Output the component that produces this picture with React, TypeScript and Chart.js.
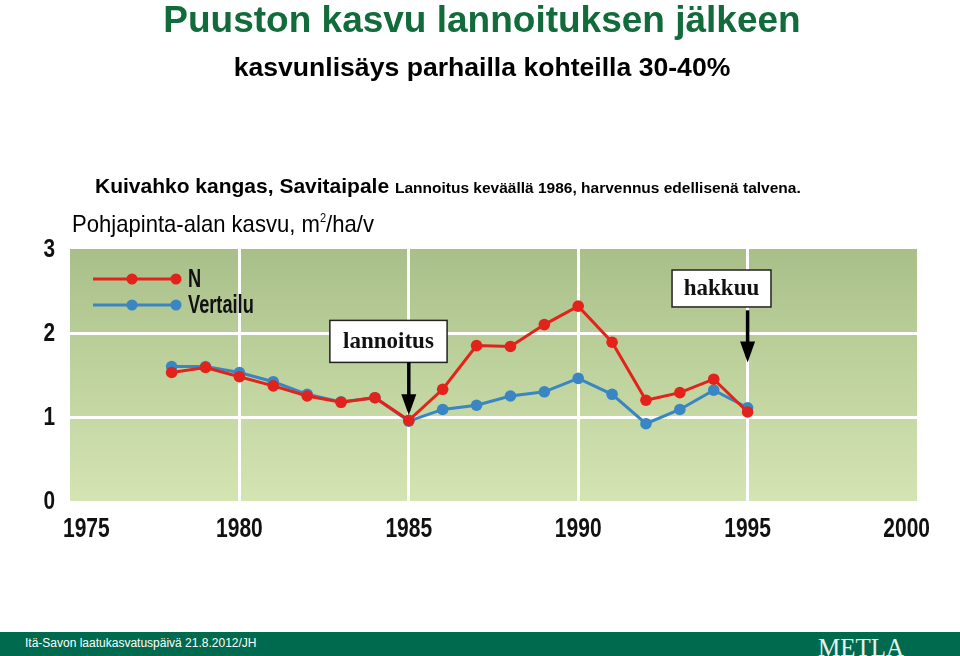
import React, { useEffect, useRef } from "react";
import { Chart, registerables } from "chart.js";

Chart.register(...registerables);

const years = [1978, 1979, 1980, 1981, 1982, 1983, 1984, 1985, 1986, 1987, 1988, 1989, 1990, 1991, 1992, 1993, 1994, 1995];
const seriesN = [1.53, 1.59, 1.48, 1.37, 1.25, 1.175, 1.23, 0.96, 1.33, 1.85, 1.84, 2.1, 2.32, 1.89, 1.2, 1.29, 1.45, 1.06];
const seriesVertailu = [1.6, 1.6, 1.53, 1.42, 1.27, 1.18, 1.23, 0.95, 1.09, 1.14, 1.25, 1.3, 1.46, 1.27, 0.92, 1.09, 1.32, 1.11];
const seriesLabels = ["N", "Vertailu"];
const xMin = 1975;
const xMax = 2000;
const xStep = 5;
const yMin = 0;
const yMax = 3;

const annotations = [
  { text: "lannoitus", year: 1985, boxLeft: 1982.67, boxRight: 1986.13, boxTop: 2.15, boxBottom: 1.65, arrowStart: 1.65, tip: 1.02 },
  { text: "hakkuu", year: 1995, boxLeft: 1992.77, boxRight: 1995.69, boxTop: 2.75, boxBottom: 2.31, arrowStart: 2.27, tip: 1.65 },
];

const RED = "#e3231b";
const BLUE = "#3a86c2";
const SANS = '"Liberation Sans", Arial, sans-serif';
const SERIF = '"Liberation Serif", "Times New Roman", serif';

const condensedText = (ctx: any, text: string, x: number, y: number, font: string, sx: number, align: string) => {
  ctx.save();
  ctx.translate(x, y);
  ctx.scale(sx, 1);
  ctx.font = font;
  ctx.textAlign = align;
  ctx.textBaseline = "middle";
  ctx.fillText(text, 0, 0);
  ctx.restore();
};

const bgPlugin = {
  id: "plotBg",
  beforeDraw(chart: any) {
    const { ctx, chartArea: a } = chart;
    const g = ctx.createLinearGradient(0, a.top, 0, a.bottom);
    g.addColorStop(0, "#a9bf8a");
    g.addColorStop(0.5, "#bfd39e");
    g.addColorStop(1, "#d4e4b3");
    ctx.save();
    ctx.fillStyle = g;
    ctx.fillRect(a.left, a.top, a.right - a.left, a.bottom - a.top);
    ctx.restore();
  },
};

const overlayPlugin = {
  id: "overlay",
  afterDraw(chart: any) {
    const { ctx, chartArea: a, scales } = chart;
    const xs = scales.x;
    const ys = scales.y;
    ctx.save();
    ctx.fillStyle = "#111";
    // axis tick labels (condensed, as in the slide)
    const xt = xs.ticks;
    xt.forEach((t: any, i: number) => {
      const px = xs.getPixelForValue(t.value);
      let x = px;
      let align = "center";
      if (i === 0) { x = px - 7; align = "left"; }
      else if (i === xt.length - 1) { x = px + 13; align = "right"; }
      condensedText(ctx, String(t.value), x, a.bottom + 28, `bold 28px ${SANS}`, 0.75, align);
    });
    ys.ticks.forEach((t: any) => {
      const py = ys.getPixelForValue(t.value);
      condensedText(ctx, String(t.value), a.left - 15, py + 1, `bold 26px ${SANS}`, 0.8, "right");
    });
    // legend
    chart.data.datasets.forEach((ds: any, i: number) => {
      const y = a.top + 30 + i * 26;
      const x0 = a.left + 23;
      const x1 = a.left + 106;
      ctx.strokeStyle = ds.borderColor;
      ctx.lineWidth = 3;
      ctx.beginPath();
      ctx.moveTo(x0, y);
      ctx.lineTo(x1, y);
      ctx.stroke();
      ctx.fillStyle = ds.borderColor;
      [a.left + 62, x1].forEach((px) => {
        ctx.beginPath();
        ctx.arc(px, y, 5.5, 0, Math.PI * 2);
        ctx.fill();
      });
      ctx.fillStyle = "#111";
      condensedText(ctx, ds.label, a.left + 118, y + 1, `bold 26px ${SANS}`, 0.7, "left");
    });
    // annotations
    annotations.forEach((an) => {
      const l = xs.getPixelForValue(an.boxLeft);
      const r = xs.getPixelForValue(an.boxRight);
      const t = ys.getPixelForValue(an.boxTop);
      const b = ys.getPixelForValue(an.boxBottom);
      ctx.fillStyle = "#ffffff";
      ctx.fillRect(l, t, r - l, b - t);
      ctx.strokeStyle = "#222";
      ctx.lineWidth = 1.5;
      ctx.strokeRect(l, t, r - l, b - t);
      ctx.fillStyle = "#111";
      ctx.font = `bold 23px ${SERIF}`;
      ctx.textAlign = "center";
      ctx.textBaseline = "middle";
      ctx.fillText(an.text, (l + r) / 2, (t + b) / 2 + 1);
      const ax = xs.getPixelForValue(an.year);
      const s = ys.getPixelForValue(an.arrowStart);
      const tip = ys.getPixelForValue(an.tip);
      ctx.strokeStyle = "#000";
      ctx.lineWidth = 3.5;
      ctx.beginPath();
      ctx.moveTo(ax, s);
      ctx.lineTo(ax, tip - 18);
      ctx.stroke();
      ctx.fillStyle = "#000";
      ctx.beginPath();
      ctx.moveTo(ax - 7.5, tip - 21);
      ctx.lineTo(ax + 7.5, tip - 21);
      ctx.lineTo(ax, tip);
      ctx.closePath();
      ctx.fill();
    });
    ctx.restore();
  },
};

export default function App() {
  const ref = useRef<HTMLCanvasElement | null>(null);
  useEffect(() => {
    if (!ref.current) return;
    const edgeColor = (lo: number, hi: number) => (c: any) =>
      c.tick && (c.tick.value === lo || c.tick.value === hi) ? "rgba(0,0,0,0)" : "#ffffff";
    const chart = new Chart(ref.current, {
      type: "line",
      data: {
        datasets: [
          {
            label: seriesLabels[0],
            data: years.map((x, i) => ({ x, y: seriesN[i] })),
            borderColor: RED,
            backgroundColor: RED,
            pointBackgroundColor: RED,
            pointBorderWidth: 0,
            pointRadius: 5.8,
            borderWidth: 3,
            tension: 0,
          },
          {
            label: seriesLabels[1],
            data: years.map((x, i) => ({ x, y: seriesVertailu[i] })),
            borderColor: BLUE,
            backgroundColor: BLUE,
            pointBackgroundColor: BLUE,
            pointBorderWidth: 0,
            pointRadius: 5.8,
            borderWidth: 3,
            tension: 0,
          },
        ],
      },
      options: {
        responsive: false,
        animation: false,
        layout: { padding: { left: 30, right: 43, top: 249, bottom: 105 } },
        plugins: { legend: { display: false }, tooltip: { enabled: false }, title: { display: false } },
        scales: {
          x: {
            type: "linear",
            min: xMin,
            max: xMax,
            afterFit: (s: any) => { s.height = 50; },
            border: { display: false },
            grid: { color: edgeColor(xMin, xMax), lineWidth: 3, drawTicks: false },
            ticks: { stepSize: xStep, display: false },
          },
          y: {
            min: yMin,
            max: yMax,
            afterFit: (s: any) => { s.width = 40; },
            border: { display: false },
            grid: { color: edgeColor(yMin, yMax), lineWidth: 3, drawTicks: false },
            ticks: { stepSize: 1, display: false },
          },
        },
      },
      plugins: [bgPlugin, overlayPlugin],
    } as any);
    return () => chart.destroy();
  }, []);

  return (
    <div style={{ position: "fixed", left: 0, top: 0, width: 960, height: 656, background: "#fff", overflow: "hidden" }}>
      <canvas ref={ref} width={960} height={656} style={{ position: "absolute", left: 0, top: 0 }} />
      <div style={{ position: "absolute", left: 0, width: 964, top: 1, textAlign: "center", font: `bold 37px ${SANS}`, lineHeight: "37px", color: "#116b3a", whiteSpace: "nowrap" }}>
        Puuston kasvu lannoituksen jälkeen
      </div>
      <div style={{ position: "absolute", left: 0, width: 964, top: 54, textAlign: "center", font: `bold 26.6px ${SANS}`, lineHeight: "27px", color: "#000", whiteSpace: "nowrap" }}>
        kasvunlisäys parhailla kohteilla 30-40%
      </div>
      <div style={{ position: "absolute", left: 95, top: 175, font: `bold 21px ${SANS}`, lineHeight: "21px", color: "#000", whiteSpace: "nowrap" }}>
        Kuivahko kangas, Savitaipale <span style={{ fontSize: 15.5 }}>Lannoitus keväällä 1986, harvennus edellisenä talvena.</span>
      </div>
      <div style={{ position: "absolute", left: 72, top: 212, font: `24px ${SANS}`, lineHeight: "24px", color: "#000", whiteSpace: "nowrap", transform: "scaleX(0.92)", transformOrigin: "left top" }}>
        Pohjapinta-alan kasvu, m<span style={{ fontSize: 12, position: "relative", top: -10 }}>2</span>/ha/v
      </div>
      <div style={{ position: "absolute", left: 0, top: 632, width: 960, height: 24, background: "#006a4e" }} />
      <div style={{ position: "absolute", left: 25, top: 636, font: `12px ${SANS}`, lineHeight: "14px", color: "#fff", whiteSpace: "nowrap" }}>
        Itä-Savon laatukasvatuspäivä 21.8.2012/JH
      </div>
      <div style={{ position: "absolute", left: 818, top: 635, font: `26px ${SERIF}`, lineHeight: "26px", color: "#e8f0eb", whiteSpace: "nowrap", transform: "scaleX(0.96)", transformOrigin: "left top" }}>
        METLA
      </div>
    </div>
  );
}
